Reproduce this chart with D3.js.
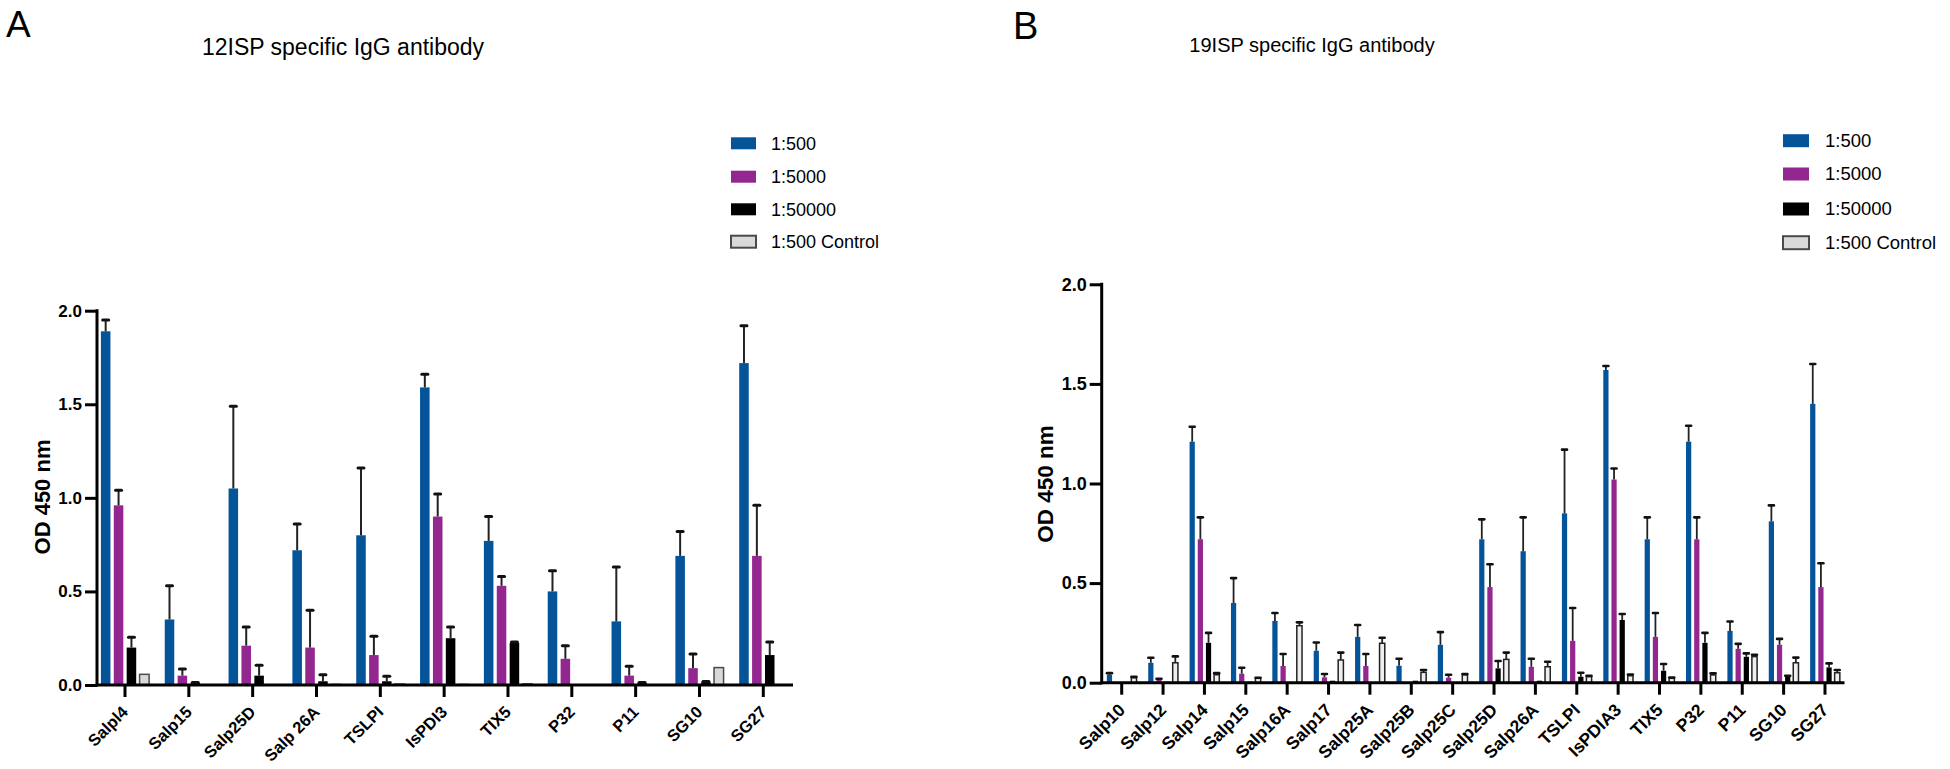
<!DOCTYPE html>
<html>
<head>
<meta charset="utf-8">
<script src="https://cdn.jsdelivr.net/npm/d3@7"></script>
<style>
  html, body { margin: 0; padding: 0; background: #fff; }
  svg { display: block; font-family: "Liberation Sans", Arial, sans-serif; }
</style>
</head>
<body>
<svg id="chart" width="1950" height="769"></svg>
<script>
// ---------- DATA ----------
const seriesNames = ["1:500", "1:5000", "1:50000", "1:500 Control"];
const yTicks = [0, 0.5, 1.0, 1.5, 2.0];

// Panel A : 12ISP
const catsA = ["Salpl4", "Salp15", "Salp25D", "Salp 26A", "TSLPI", "IsPDI3", "TIX5", "P32", "P11", "SG10", "SG27"];
const a500      = [1.89, 0.35, 1.05, 0.72, 0.80, 1.59, 0.77, 0.50, 0.34, 0.69, 1.72];
const a500Sd    = [0.06, 0.18, 0.44, 0.14, 0.36, 0.07, 0.13, 0.11, 0.29, 0.13, 0.20];
const a5000     = [0.96, 0.05, 0.21, 0.20, 0.16, 0.90, 0.53, 0.14, 0.05, 0.09, 0.69];
const a5000Sd   = [0.08, 0.035, 0.10, 0.20, 0.10, 0.12, 0.05, 0.07, 0.05, 0.075, 0.27];
const a50000    = [0.20, 0.01, 0.05, 0.02, 0.02, 0.25, 0.225, 0.0, 0.01, 0.015, 0.16];
const a50000Sd  = [0.055, 0.004, 0.055, 0.035, 0.027, 0.06, 0.005, 0, 0.004, 0.004, 0.07];
const aCtrl     = [0.057, 0, 0, 0.003, 0.005, 0.003, 0.006, 0, 0, 0.093, 0];
const aCtrlSd   = [0, 0, 0, 0, 0, 0, 0, 0, 0, 0, 0];

// Panel B : 19ISP
const catsB = ["Salp10", "Salp12", "Salp14", "Salp15", "Salp16A", "Salp17", "Salp25A", "Salp25B", "Salp25C",
               "Salp25D", "Salp26A", "TSLPI", "IsPDIA3", "TIX5", "P32", "P11", "SG10", "SG27"];
const b500      = [0.04, 0.10, 1.21, 0.40, 0.31, 0.16, 0.23, 0.085, 0.19, 0.72, 0.66, 0.85, 1.57, 0.72, 1.21, 0.26, 0.81, 1.40];
const b500Sd    = [0.008, 0.025, 0.075, 0.125, 0.04, 0.042, 0.06, 0.035, 0.064, 0.10, 0.17, 0.32, 0.02, 0.11, 0.08, 0.047, 0.08, 0.20];
const b5000     = [0, 0.017, 0.72, 0.045, 0.084, 0.027, 0.084, 0, 0.025, 0.48, 0.08, 0.21, 1.02, 0.23, 0.72, 0.17, 0.19, 0.48];
const b5000Sd   = [0, 0.003, 0.11, 0.03, 0.06, 0.017, 0.06, 0, 0.015, 0.115, 0.04, 0.165, 0.055, 0.12, 0.11, 0.025, 0.03, 0.12];
const b50000    = [0, 0.005, 0.20, 0.005, 0, 0.01, 0, 0.01, 0, 0.072, 0.01, 0.03, 0.315, 0.06, 0.20, 0.13, 0.03, 0.077];
const b50000Sd  = [0, 0, 0.05, 0, 0, 0, 0, 0, 0, 0.037, 0, 0.02, 0.03, 0.034, 0.05, 0.017, 0.005, 0.02];
const bCtrl     = [0.025, 0.10, 0.04, 0.022, 0.286, 0.114, 0.198, 0.052, 0.039, 0.117, 0.08, 0.03, 0.035, 0.022, 0.039, 0.131, 0.10, 0.05];
const bCtrlSd   = [0.004, 0.032, 0.008, 0.003, 0.017, 0.037, 0.028, 0.012, 0.005, 0.034, 0.025, 0.005, 0.006, 0.004, 0.008, 0.009, 0.026, 0.014];

// ---------- STYLE ----------
const fills   = ["#05549a", "#93268f", "#000000", "#d9d9d9"];

const svg = d3.select("#chart");
svg.append("rect").attr("width", 1950).attr("height", 769).attr("fill", "#fff");

function drawPanel(cfg) {
  const g = svg.append("g");
  const n = cfg.cats.length;
  const x0 = d3.scaleBand().domain(cfg.cats)
      .range([cfg.c0 - cfg.step / 2, cfg.c0 + (n - 0.5) * cfg.step])
      .paddingInner(cfg.padGroup).paddingOuter(cfg.padGroup / 2);
  const x1 = d3.scaleBand().domain(d3.range(4)).range([0, x0.bandwidth()]).padding(cfg.padBar);
  const y = d3.scaleLinear().domain([0, 2]).range([cfg.y0, cfg.y2]);

  const rows = [];
  cfg.cats.forEach((c, i) => {
    cfg.series.forEach((s, k) => {
      rows.push({ cat: c, k: k, v: s.v[i], sd: s.sd[i] });
    });
  });

  // bars
  g.selectAll("rect.bar").data(rows.filter(d => d.v > 0)).join("rect")
    .attr("class", "bar")
    .attr("x", d => x0(d.cat) + x1(d.k))
    .attr("width", x1.bandwidth())
    .attr("y", d => y(d.v))
    .attr("height", d => y(0) - y(d.v))
    .attr("fill", d => d.k === 3 ? cfg.ctrlFill : fills[d.k])
    .attr("stroke", d => d.k === 3 ? cfg.ctrlStrokeCol : "none")
    .attr("stroke-width", d => d.k === 3 ? cfg.ctrlStroke : 0);

  // error bars (upper only)
  const eb = rows.filter(d => d.v > 0 && d.sd > 0);
  const cx = d => x0(d.cat) + x1(d.k) + x1.bandwidth() / 2;
  g.selectAll("line.err").data(eb).join("line")
    .attr("x1", cx).attr("x2", cx)
    .attr("y1", d => y(d.v)).attr("y2", d => y(d.v + d.sd))
    .attr("stroke", "#222").attr("stroke-width", cfg.errW);
  g.selectAll("line.cap").data(eb).join("line")
    .attr("x1", d => cx(d) - cfg.capW / 2).attr("x2", d => cx(d) + cfg.capW / 2)
    .attr("y1", d => y(d.v + d.sd)).attr("y2", d => y(d.v + d.sd))
    .attr("stroke", "#111").attr("stroke-width", cfg.capT).attr("stroke-linecap", "round");

  // y axis
  const ya = g.append("g").attr("transform", `translate(${cfg.axisX},0)`)
    .call(d3.axisLeft(y).tickValues(yTicks).tickFormat(d3.format(".1f")).tickSize(cfg.tickLen).tickPadding(3));
  ya.select(".domain").remove();
  ya.selectAll(".tick line").attr("stroke", "#000").attr("stroke-width", cfg.axisW);
  ya.selectAll(".tick text").attr("font-size", cfg.yTickFont).attr("font-weight", "bold").attr("fill", "#000")
    .attr("font-family", "'Liberation Sans', Arial, sans-serif");
  g.append("line").attr("x1", cfg.axisX).attr("x2", cfg.axisX)
    .attr("y1", y(0) + cfg.axisW / 2).attr("y2", y(2) - cfg.axisW / 2)
    .attr("stroke", "#000").attr("stroke-width", cfg.axisW);

  // x axis
  const xa = g.append("g").attr("transform", `translate(0,${cfg.y0})`)
    .call(d3.axisBottom(x0).tickSize(cfg.tickLen).tickSizeOuter(0));
  xa.select(".domain").remove();
  xa.selectAll(".tick line").attr("stroke", "#000").attr("stroke-width", cfg.axisW);
  xa.selectAll(".tick text")
    .attr("x", null).attr("y", null).attr("dy", "0.35em")
    .attr("text-anchor", "end")
    .attr("transform", `translate(${cfg.lblDx},${cfg.lblDy}) rotate(-45)`)
    .attr("font-size", cfg.xTickFont).attr("font-weight", "bold").attr("fill", "#000")
    .attr("font-family", "'Liberation Sans', Arial, sans-serif");
  g.append("line").attr("x1", cfg.axisX - cfg.axisW / 2).attr("x2", cfg.xEnd)
    .attr("y1", cfg.y0).attr("y2", cfg.y0)
    .attr("stroke", "#000").attr("stroke-width", cfg.axisW);

  // y title
  g.append("text")
    .attr("transform", `translate(${cfg.yTitleX},${cfg.yTitleY}) rotate(-90)`)
    .attr("text-anchor", "middle")
    .attr("font-size", cfg.yTitleFont).attr("font-weight", "bold").attr("fill", "#000")
    .text("OD 450 nm");

  // title + panel letter
  g.append("text").attr("x", cfg.titleX).attr("y", cfg.titleY).attr("text-anchor", "middle")
    .attr("font-size", cfg.titleFont).attr("fill", "#000").text(cfg.title);
  g.append("text").attr("x", cfg.letterX).attr("y", cfg.letterY)
    .attr("font-size", cfg.letterFont).attr("fill", "#000").text(cfg.letter);

  // legend
  const lg = g.append("g");
  seriesNames.forEach((name, k) => {
    const cy = cfg.legY[k];
    lg.append("rect").attr("x", cfg.legX).attr("y", cy - cfg.legH / 2)
      .attr("width", cfg.legW).attr("height", cfg.legH)
      .attr("fill", fills[k])
      .attr("stroke", k === 3 ? "#4a4a4a" : "none").attr("stroke-width", k === 3 ? 2 : 0);
    lg.append("text").attr("x", cfg.legTextX).attr("y", cy).attr("dy", "0.35em")
      .attr("font-size", cfg.legFont).attr("fill", "#000").text(name);
  });
}

drawPanel({
  cats: catsA,
  series: [
    { v: a500, sd: a500Sd }, { v: a5000, sd: a5000Sd },
    { v: a50000, sd: a50000Sd }, { v: aCtrl, sd: aCtrlSd }
  ],
  c0: 125, step: 63.83, padGroup: 0.14, padBar: 0.26,
  y0: 685, y2: 310.7, axisX: 97, xEnd: 793,
  axisW: 3, tickLen: 12, errW: 2, capW: 6, capT: 3,
  ctrlFill: "#d9d9d9", ctrlStrokeCol: "#4a4a4a", ctrlStroke: 1.5,
  yTickFont: 17, xTickFont: 16.5, lblDx: 0, lblDy: 24,
  yTitleX: 50, yTitleY: 497, yTitleFont: 22,
  title: "12ISP specific IgG antibody", titleX: 343, titleY: 55, titleFont: 23,
  letter: "A", letterX: 6, letterY: 37, letterFont: 37,
  legX: 731, legW: 25, legH: 12, legTextX: 771, legFont: 18,
  legY: [143.3, 176.7, 209.3, 241.7]
});

drawPanel({
  cats: catsB,
  series: [
    { v: b500, sd: b500Sd }, { v: b5000, sd: b5000Sd },
    { v: b50000, sd: b50000Sd }, { v: bCtrl, sd: bCtrlSd }
  ],
  c0: 1121.7, step: 41.37, padGroup: 0.14, padBar: 0.36,
  y0: 682.7, y2: 284.3, axisX: 1101.7, xEnd: 1844.5,
  axisW: 3, tickLen: 12, errW: 1.8, capW: 5, capT: 2.6,
  ctrlFill: "#efefef", ctrlStrokeCol: "#222", ctrlStroke: 1.5,
  yTickFont: 18, xTickFont: 17.5, lblDx: 0, lblDy: 24,
  yTitleX: 1053, yTitleY: 484, yTitleFont: 22.5,
  title: "19ISP specific IgG antibody", titleX: 1312, titleY: 52, titleFont: 20,
  letter: "B", letterX: 1013, letterY: 39, letterFont: 38,
  legX: 1783, legW: 26, legH: 13, legTextX: 1825, legFont: 18.5,
  legY: [140.7, 174, 209, 242.7]
});
</script>
</body>
</html>
